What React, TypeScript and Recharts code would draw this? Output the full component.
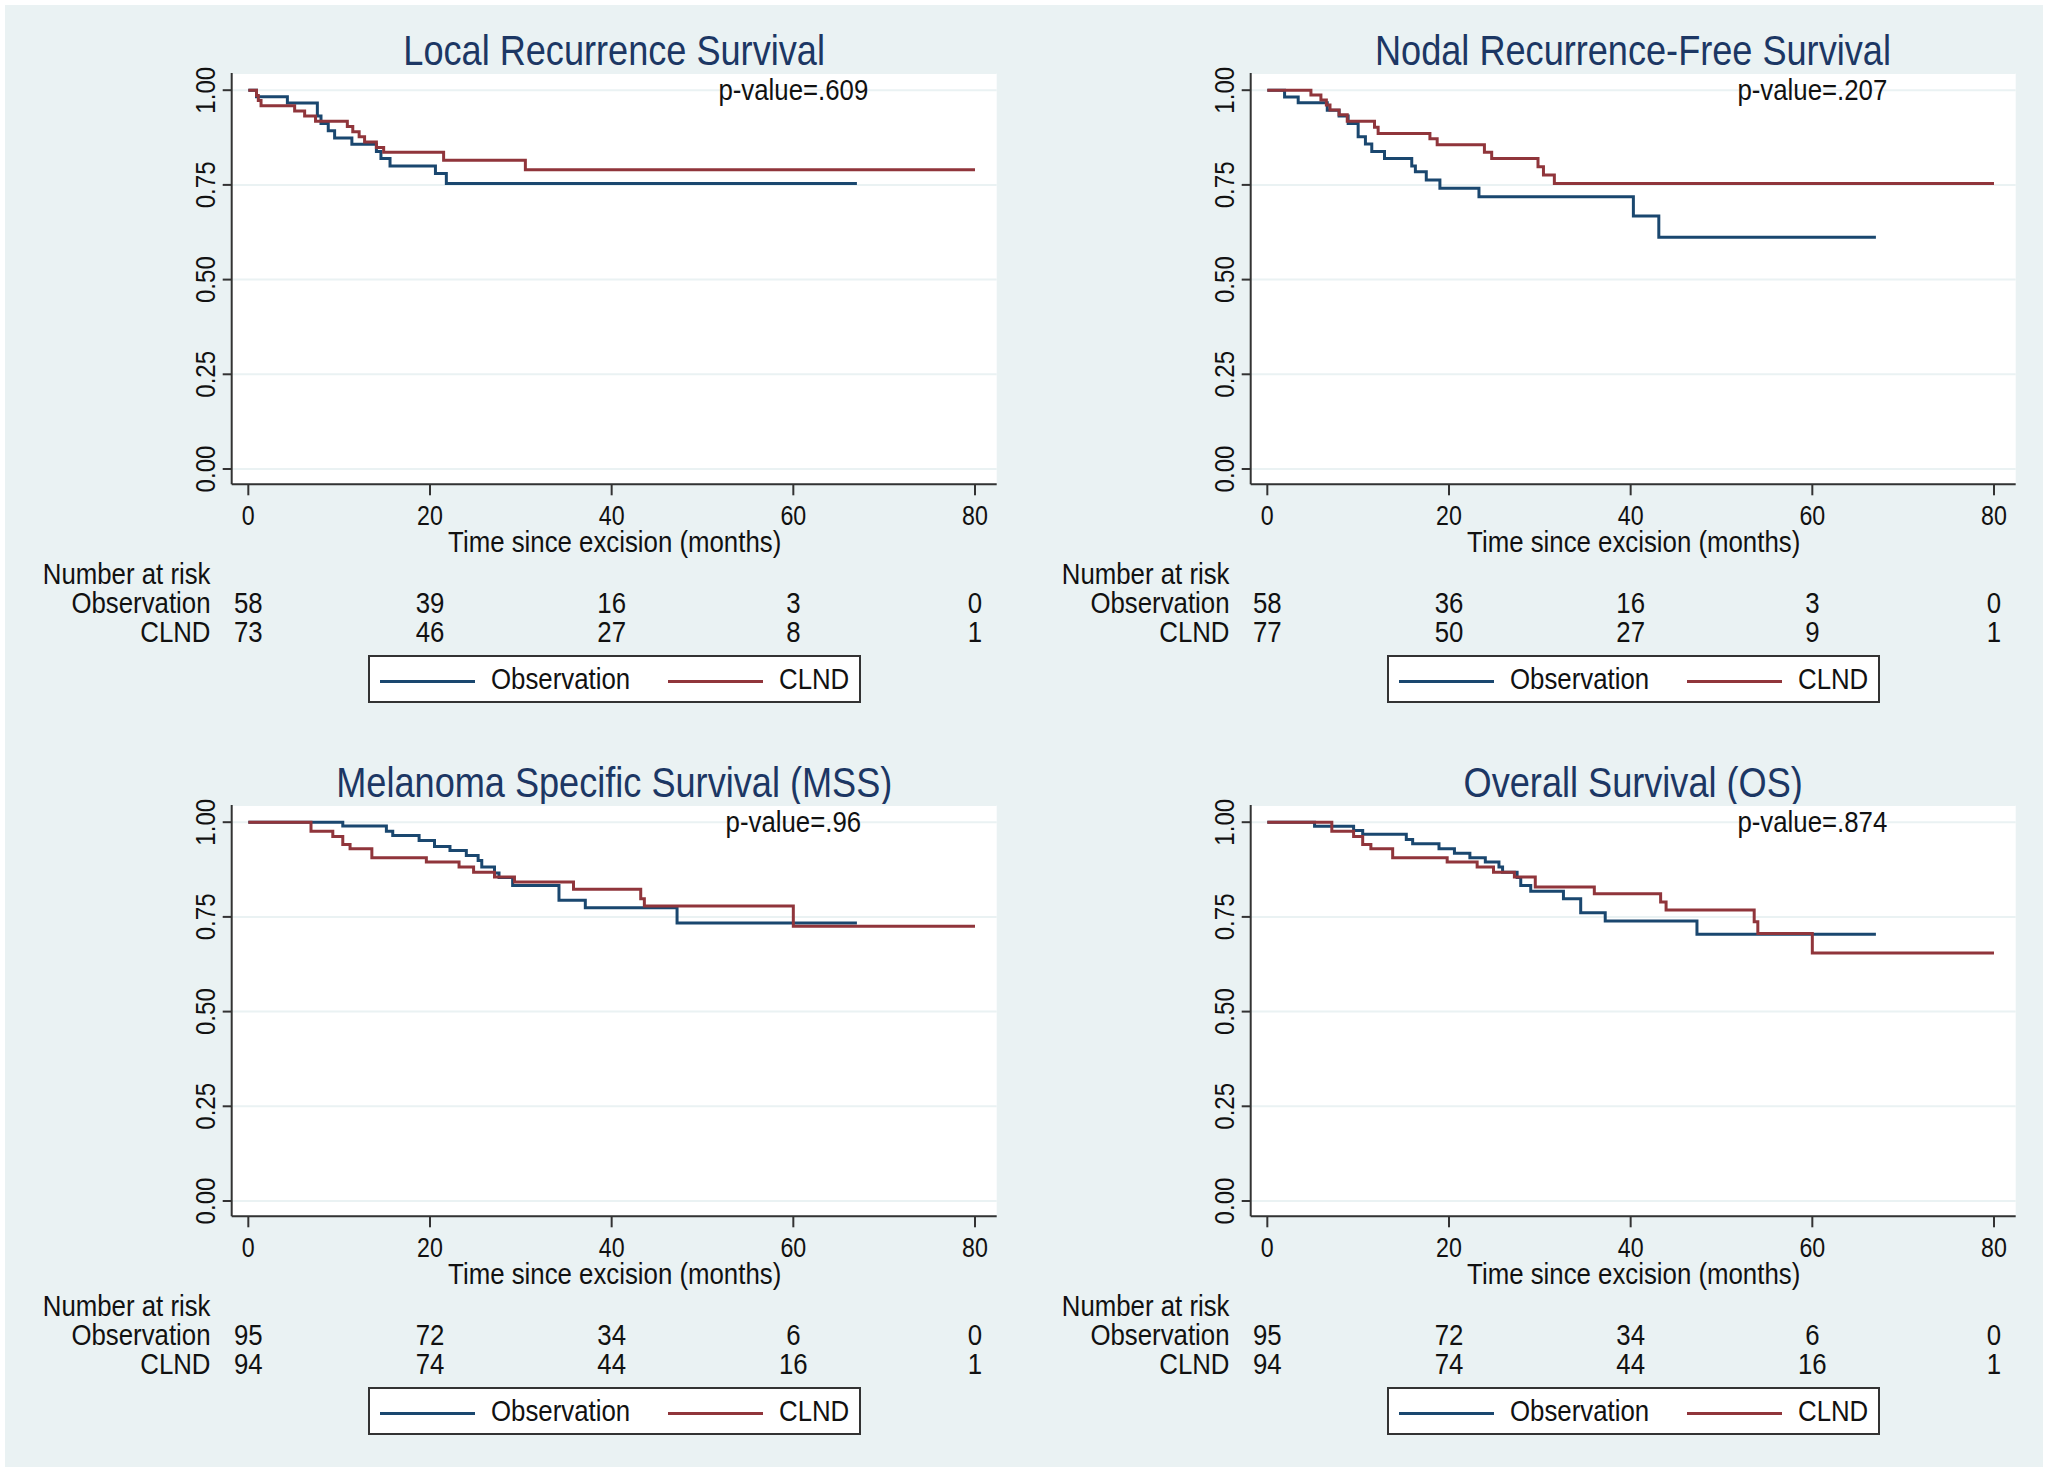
import React from 'react';
import { LineChart, Line, XAxis, YAxis, CartesianGrid, ReferenceDot } from 'recharts';

const FONT = '"Liberation Sans", Arial, Helvetica, sans-serif';
const BG = '#eaf2f3';
const NAVY = '#1a476f';
const MAROON = '#90353b';
const INK = '#111111';
const SQ = 0.86; // the original type is set narrow

const timeTicks = [0, 20, 40, 60, 80];
const survivalTicks = [0, 0.25, 0.5, 0.75, 1];

// [months, survival] — a new value starts at each time point
const localObs: [number, number][] = [
  [0, 1], [0.9, 0.983], [4.3, 0.966], [7.6, 0.932], [8.0, 0.912], [8.8, 0.893], [9.5, 0.874],
  [11.4, 0.857], [14.1, 0.838], [14.6, 0.82], [15.6, 0.8], [20.6, 0.78], [21.8, 0.754], [67, 0.754],
];
const localClnd: [number, number][] = [
  [0, 1], [0.9, 0.986], [1.1, 0.973], [1.4, 0.959], [5.1, 0.945], [6.2, 0.932], [7.4, 0.918],
  [10.9, 0.904], [11.5, 0.89], [12.2, 0.877], [12.8, 0.863], [14.1, 0.849], [14.9, 0.836],
  [21.5, 0.815], [30.5, 0.79], [80, 0.79],
];
const nodalObs: [number, number][] = [
  [0, 1], [1.9, 0.982], [3.4, 0.967], [6.6, 0.947], [7.9, 0.932], [8.9, 0.912], [10.0, 0.877],
  [10.8, 0.858], [11.5, 0.838], [12.9, 0.82], [15.9, 0.8], [16.3, 0.785], [17.5, 0.763],
  [19.0, 0.741], [23.3, 0.719], [40.3, 0.668], [43.1, 0.612], [67, 0.612],
];
const nodalClnd: [number, number][] = [
  [0, 1], [4.8, 0.987], [5.9, 0.974], [6.5, 0.961], [6.9, 0.948], [7.9, 0.935], [8.8, 0.918],
  [11.8, 0.902], [12.2, 0.886], [17.9, 0.872], [18.7, 0.856], [23.9, 0.836], [24.7, 0.82],
  [29.8, 0.798], [30.4, 0.776], [31.6, 0.754], [80, 0.754],
];
const mssObs: [number, number][] = [
  [0, 1], [10.4, 0.99], [15.2, 0.976], [15.9, 0.965], [18.8, 0.952], [20.5, 0.936], [22.2, 0.925],
  [24.0, 0.912], [25.3, 0.899], [25.7, 0.882], [27.1, 0.866], [27.6, 0.854], [29.1, 0.833],
  [34.2, 0.794], [37.1, 0.774], [47.2, 0.734], [67, 0.734],
];
const mssClnd: [number, number][] = [
  [0, 1], [6.9, 0.976], [9.3, 0.962], [10.4, 0.941], [11.2, 0.93], [13.6, 0.906], [19.6, 0.895],
  [23.2, 0.882], [24.8, 0.868], [27.1, 0.855], [29.3, 0.842], [35.8, 0.823], [43.2, 0.798],
  [43.6, 0.779], [60.0, 0.725], [80, 0.725],
];
const osObs: [number, number][] = [
  [0, 1], [5.2, 0.989], [9.5, 0.978], [10.5, 0.968], [15.3, 0.954], [16.0, 0.943], [18.9, 0.93],
  [20.6, 0.918], [22.3, 0.906], [24.0, 0.895], [25.5, 0.882], [25.9, 0.868], [27.5, 0.854],
  [27.9, 0.833], [29.0, 0.818], [32.6, 0.798], [34.5, 0.761], [37.2, 0.739], [47.3, 0.704], [67, 0.704],
];
const osClnd: [number, number][] = [
  [0, 1], [7.1, 0.976], [9.5, 0.962], [10.5, 0.941], [11.4, 0.93], [13.8, 0.906], [19.8, 0.895],
  [23.1, 0.882], [24.9, 0.868], [27.2, 0.855], [29.5, 0.829], [36.0, 0.811], [43.3, 0.789],
  [43.9, 0.768], [53.6, 0.737], [54.0, 0.706], [60.0, 0.655], [80, 0.655],
];

const localRiskObs = [58, 39, 16, 3, 0];
const localRiskClnd = [73, 46, 27, 8, 1];
const nodalRiskObs = [58, 36, 16, 3, 0];
const nodalRiskClnd = [77, 50, 27, 9, 1];
const mssRiskObs = [95, 72, 34, 6, 0];
const mssRiskClnd = [94, 74, 44, 16, 1];
const osRiskObs = [95, 72, 34, 6, 0];
const osRiskClnd = [94, 74, 44, 16, 1];

const toRows = (pts: [number, number][]) => pts.map(([t, s]) => ({ t, s }));

// panel geometry (px, relative to panel origin)
const W = 1020;
const H = 720;
const PLOT_L = 231.7;
const PLOT_R = 996.7;
const PLOT_T = 73;
const PLOT_B = 484.3;
const Y_AXIS_W = 40;
const X_AXIS_H = 40;
const PLOT_CX = (PLOT_L + PLOT_R) / 2;

// svg text squeezed horizontally to mimic the narrow face
const SqText = ({ x, y, size = 30, anchor = 'middle', rotate = 0, children }: any) => (
  <g transform={`translate(${x} ${y}) rotate(${rotate}) scale(${SQ} 1)`}>
    <text
      x={0}
      y={0}
      textAnchor={anchor}
      dominantBaseline="central"
      fontSize={size}
      fontFamily={FONT}
      fill={INK}
    >
      {children}
    </text>
  </g>
);

const PLabel = (props: any) => {
  const vb = props.viewBox || {};
  const cx = (vb.x || 0) + (vb.width || 0) / 2;
  const cy = (vb.y || 0) + (vb.height || 0) / 2;
  return <SqText x={cx} y={cy} size={30}>{props.text}</SqText>;
};

interface PanelProps {
  left: number;
  top: number;
  title: string;
  pValue: string;
  obs: [number, number][];
  clnd: [number, number][];
  riskObs: number[];
  riskClnd: number[];
}

const Panel = (p: PanelProps) => {
  const TimeTick = (props: any) => {
    const { x, payload } = props;
    const i = timeTicks.indexOf(payload.value);
    return (
      <g>
        <SqText x={x} y={515} size={27}>{payload.value}</SqText>
        {i === 0 && (
          <>
            <SqText x={210.5} y={574} anchor="end">Number at risk</SqText>
            <SqText x={210.5} y={602.7} anchor="end">Observation</SqText>
            <SqText x={210.5} y={631.5} anchor="end">CLND</SqText>
          </>
        )}
        <SqText x={x} y={602.7}>{p.riskObs[i]}</SqText>
        <SqText x={x} y={631.5}>{p.riskClnd[i]}</SqText>
      </g>
    );
  };

  const SurvTick = (props: any) => {
    const { y, payload } = props;
    return (
      <SqText x={205} y={y} size={28} rotate={-90}>
        {Number(payload.value).toFixed(2)}
      </SqText>
    );
  };

  const squeezed = {
    display: 'inline-block',
    transform: `scaleX(${SQ})`,
    whiteSpace: 'nowrap' as const,
  };

  return (
    <div style={{ position: 'absolute', left: p.left, top: p.top, width: W, height: H }}>
      <div
        style={{
          position: 'absolute',
          left: PLOT_CX - 450,
          width: 900,
          top: 26,
          height: 50,
          lineHeight: '50px',
          textAlign: 'center',
          fontFamily: FONT,
          fontSize: 42,
          color: '#1c3764',
        }}
      >
        <span style={{ ...squeezed, transformOrigin: 'center' }}>{p.title}</span>
      </div>
      <LineChart
        width={W}
        height={H}
        margin={{
          top: PLOT_T,
          right: W - PLOT_R,
          left: PLOT_L - Y_AXIS_W,
          bottom: H - PLOT_B - X_AXIS_H,
        }}
      >
        <CartesianGrid vertical={false} stroke={BG} strokeWidth={2} fill="#ffffff" />
        <XAxis
          dataKey="t"
          type="number"
          domain={[-1.83, 82.39]}
          allowDataOverflow={true}
          ticks={timeTicks}
          height={X_AXIS_H}
          tickSize={11}
          axisLine={{ stroke: '#333', strokeWidth: 2 }}
          tickLine={{ stroke: '#333', strokeWidth: 2 }}
          tick={<TimeTick />}
          interval={0}
        />
        <YAxis
          type="number"
          domain={[-0.0404, 1.0454]}
          allowDataOverflow={true}
          ticks={survivalTicks}
          width={Y_AXIS_W}
          tickSize={9}
          axisLine={{ stroke: '#333', strokeWidth: 2 }}
          tickLine={{ stroke: '#333', strokeWidth: 2 }}
          tick={<SurvTick />}
          interval={0}
        />
        <Line
          data={toRows(p.obs)}
          dataKey="s"
          name="Observation"
          type="stepAfter"
          stroke={NAVY}
          strokeWidth={3}
          dot={false}
          isAnimationActive={false}
        />
        <Line
          data={toRows(p.clnd)}
          dataKey="s"
          name="CLND"
          type="stepAfter"
          stroke={MAROON}
          strokeWidth={3}
          dot={false}
          isAnimationActive={false}
        />
        <ReferenceDot
          x={60}
          y={1.0}
          r={0}
          fill="none"
          stroke="none"
          label={<PLabel text={p.pValue} />}
        />
      </LineChart>
      <div
        style={{
          position: 'absolute',
          left: PLOT_CX - 250,
          width: 500,
          top: 532,
          height: 20,
          lineHeight: '20px',
          textAlign: 'center',
          fontFamily: FONT,
          fontSize: 30,
          color: INK,
        }}
      >
        <span style={{ ...squeezed, transformOrigin: 'center' }}>Time since excision (months)</span>
      </div>
      <div
        style={{
          position: 'absolute',
          left: 367.6,
          top: 654.5,
          width: 493,
          height: 48.5,
          boxSizing: 'border-box',
          border: '2px solid #333',
          background: '#fff',
          fontFamily: FONT,
          fontSize: 30,
          color: INK,
        }}
      >
        <div style={{ position: 'absolute', left: 10, top: 23, width: 95, height: 3, background: NAVY }} />
        <div style={{ position: 'absolute', left: 121, top: 0, height: 44, lineHeight: '44px' }}>
          <span style={{ ...squeezed, transformOrigin: 'left' }}>Observation</span>
        </div>
        <div style={{ position: 'absolute', left: 298, top: 23, width: 95, height: 3, background: MAROON }} />
        <div style={{ position: 'absolute', left: 409, top: 0, height: 44, lineHeight: '44px' }}>
          <span style={{ ...squeezed, transformOrigin: 'left' }}>CLND</span>
        </div>
      </div>
    </div>
  );
};

const App = () => (
  <div style={{ position: 'absolute', left: 0, top: 0, width: 2050, height: 1473, background: '#fff' }}>
    <div style={{ position: 'absolute', left: 5, top: 5, width: 2038, height: 1462, background: BG }} />
    <Panel left={0} top={0} title="Local Recurrence Survival" pValue="p-value=.609"
      obs={localObs} clnd={localClnd} riskObs={localRiskObs} riskClnd={localRiskClnd} />
    <Panel left={1019} top={0} title="Nodal Recurrence-Free Survival" pValue="p-value=.207"
      obs={nodalObs} clnd={nodalClnd} riskObs={nodalRiskObs} riskClnd={nodalRiskClnd} />
    <Panel left={0} top={732} title="Melanoma Specific Survival (MSS)" pValue="p-value=.96"
      obs={mssObs} clnd={mssClnd} riskObs={mssRiskObs} riskClnd={mssRiskClnd} />
    <Panel left={1019} top={732} title="Overall Survival (OS)" pValue="p-value=.874"
      obs={osObs} clnd={osClnd} riskObs={osRiskObs} riskClnd={osRiskClnd} />
  </div>
);

export default App;
